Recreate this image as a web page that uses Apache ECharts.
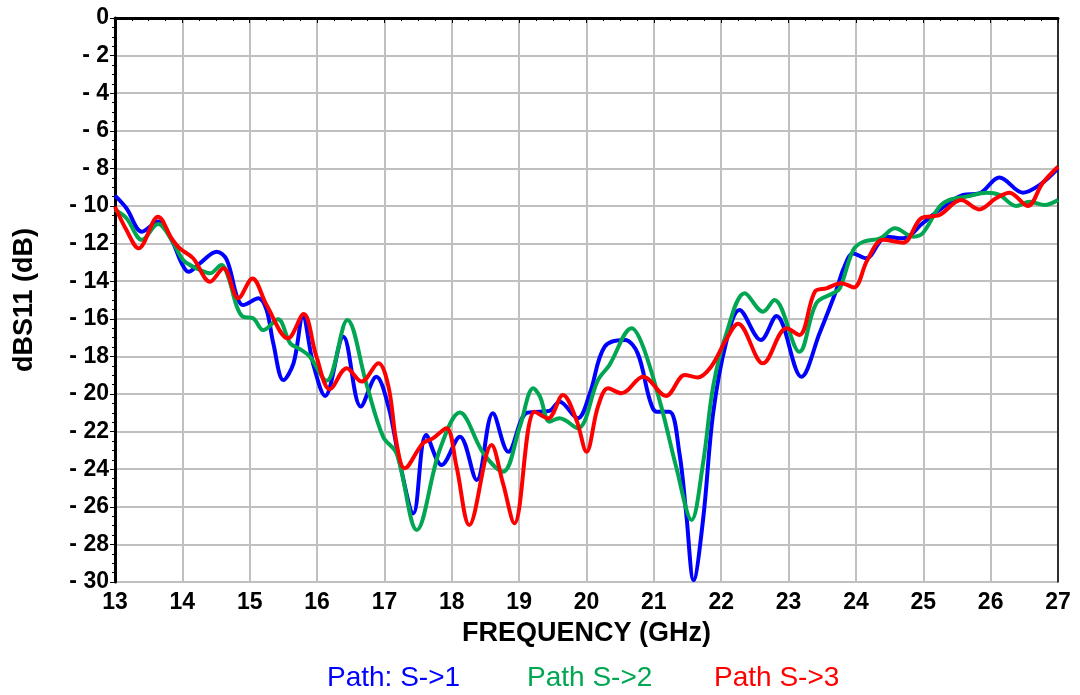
<!DOCTYPE html>
<html><head><meta charset="utf-8">
<script src="https://cdn.jsdelivr.net/npm/echarts@6/dist/echarts.min.js"></script>
<style>html,body{margin:0;padding:0;background:#fff}#c{width:1080px;height:695px}</style>
</head><body><div id="c"></div>
<script>
const seriesNames = ['Path: S->1', 'Path S->2', 'Path S->3'];
const xTicks = [13,14,15,16,17,18,19,20,21,22,23,24,25,26,27];
const yTicks = [0,-2,-4,-6,-8,-10,-12,-14,-16,-18,-20,-22,-24,-26,-28,-30];

const freq1 = [13.00,13.17,13.40,13.64,13.84,13.99,14.09,14.26,14.51,14.66,14.81,14.90,15.13,15.25,15.35,15.50,15.65,15.79,15.94,16.12,16.39,16.65,16.88,17.06,17.23,17.43,17.62,17.85,18.12,18.37,18.61,18.84,19.11,19.31,19.45,19.60,19.87,20.05,20.27,20.57,20.76,20.94,21.04,21.23,21.38,21.48,21.59,21.73,21.88,22.07,22.27,22.59,22.82,23.19,23.46,23.71,23.82,23.96,24.15,24.45,24.70,24.99,25.24,25.59,25.83,26.13,26.48,26.73,27.00];
const db1 = [-9.45,-10.12,-11.37,-10.83,-11.8,-13.05,-13.5,-13.05,-12.43,-12.87,-14.82,-15.27,-14.91,-15.53,-17.3,-19.26,-18.37,-15.89,-18.37,-20.1,-16.95,-20.67,-19.08,-20.67,-23.69,-26.35,-22.18,-23.78,-22.27,-24.57,-21.03,-23.07,-21.0,-20.94,-20.9,-20.41,-21.29,-19.96,-17.48,-17.13,-17.84,-20.32,-20.94,-20.94,-23.16,-26.35,-29.9,-26.7,-21.03,-17.3,-15.53,-17.13,-15.85,-19.08,-16.77,-14.47,-13.3,-12.52,-12.78,-11.63,-11.72,-10.92,-10.21,-9.41,-9.33,-8.48,-9.29,-8.88,-8.0];

const freq2 = [13.00,13.17,13.40,13.64,13.84,14.01,14.16,14.26,14.41,14.58,14.68,14.81,14.90,15.05,15.20,15.42,15.60,15.74,15.89,16.14,16.45,16.73,16.98,17.18,17.48,17.82,18.12,18.47,18.76,19.01,19.21,19.31,19.45,19.60,19.87,20.17,20.34,20.67,20.84,21.11,21.33,21.56,21.73,21.88,22.07,22.35,22.62,22.79,23.16,23.41,23.66,23.76,23.96,24.11,24.36,24.58,24.85,24.99,25.24,25.39,25.64,25.94,26.13,26.38,26.58,26.80,27.00];
const db2 = [-10.2,-10.65,-11.8,-10.96,-11.8,-12.87,-13.23,-13.4,-13.58,-13.14,-13.76,-15.36,-15.89,-15.97,-16.6,-16.03,-17.3,-17.6,-18.0,-19.3,-16.06,-19.43,-22.27,-23.16,-27.23,-22.98,-20.99,-23.16,-24.13,-21.74,-19.7,-20.14,-21.47,-21.29,-21.82,-19.26,-18.46,-16.5,-17.48,-20.67,-23.86,-26.7,-23.69,-19.61,-16.86,-14.64,-15.62,-15.0,-17.75,-15.18,-14.64,-14.38,-12.34,-11.9,-11.72,-11.19,-11.63,-11.45,-10.04,-9.68,-9.5,-9.29,-9.41,-10.0,-9.77,-9.95,-9.68];

const freq3 = [13.00,13.17,13.35,13.64,13.84,13.96,14.16,14.41,14.61,14.83,15.04,15.25,15.57,15.80,15.99,16.19,16.44,16.66,16.91,17.06,17.18,17.30,17.57,17.72,17.92,18.07,18.26,18.59,18.76,18.93,19.23,19.43,19.65,19.85,20.00,20.17,20.32,20.52,20.84,21.18,21.46,21.65,21.85,22.07,22.25,22.62,22.97,23.16,23.39,23.56,23.78,23.97,24.17,24.40,24.70,24.97,25.24,25.56,25.83,26.08,26.28,26.55,26.77,27.00];
const db3 = [-10.04,-11.28,-12.25,-10.57,-11.72,-12.25,-12.78,-14.03,-13.31,-14.91,-13.85,-15.27,-17.04,-15.75,-18.0,-19.75,-18.63,-19.34,-18.37,-19.61,-22.62,-23.95,-22.62,-22.36,-21.82,-23.86,-26.97,-22.71,-24.75,-26.88,-20.94,-21.3,-20.05,-21.38,-23.07,-20.67,-19.7,-19.96,-19.08,-20.1,-18.99,-19.12,-18.55,-17.13,-16.26,-18.37,-16.5,-16.86,-14.56,-14.38,-14.11,-14.33,-12.87,-11.8,-11.95,-10.65,-10.48,-9.68,-10.18,-9.59,-9.29,-10.0,-8.79,-7.91];

const colors = ['#0000ff', '#00a651', '#ff0000'];
const legendLeft = [322, 522, 709];
const pairs = (xs, ys) => xs.map((x, i) => [x, ys[i]]);

const chart = echarts.init(document.getElementById('c'));
const font = '"Liberation Sans", Arial, sans-serif';
chart.setOption({
  animation: false,
  grid: { left: 115, right: 22, top: 18, bottom: 113 },
  xAxis: {
    type: 'value', min: xTicks[0], max: xTicks[xTicks.length - 1], interval: 1,
    name: 'FREQUENCY (GHz)', nameLocation: 'middle', nameGap: 38,
    nameTextStyle: { fontFamily: font, fontWeight: 'bold', fontSize: 27, color: '#000' },
    axisLine: { lineStyle: { color: '#000', width: 3 } },
    axisTick: { lineStyle: { color: '#000', width: 1 }, length: 5 },
    minorTick: { show: true, splitNumber: 4, length: 3, lineStyle: { color: '#000' } },
    axisLabel: { fontFamily: font, fontWeight: 'bold', fontSize: 23, color: '#000', margin: 9 },
    splitLine: { show: true, lineStyle: { color: '#c0c0c0', width: 2 } }
  },
  yAxis: [{
    type: 'value', min: yTicks[yTicks.length - 1], max: yTicks[0], interval: 2,
    name: 'dBS11 (dB)', nameLocation: 'middle', nameGap: 77,
    nameTextStyle: { fontFamily: font, fontWeight: 'bold', fontSize: 27, color: '#000' },
    axisLine: { lineStyle: { color: '#000', width: 3 } },
    axisTick: { lineStyle: { color: '#000', width: 1 }, length: 5 },
    minorTick: { show: true, splitNumber: 4, length: 3, lineStyle: { color: '#000' } },
    axisLabel: { fontFamily: font, fontWeight: 'bold', fontSize: 23, color: '#000', margin: 6,
      formatter: v => v === 0 ? '0' : '- ' + Math.abs(v) },
    splitLine: { show: true, lineStyle: { color: '#c0c0c0', width: 2 } }
  }, {
    type: 'value', min: yTicks[yTicks.length - 1], max: yTicks[0], interval: 2, position: 'right',
    axisLine: { show: true, lineStyle: { color: '#000', width: 1.5 } },
    axisTick: { show: false }, axisLabel: { show: false }, splitLine: { show: false }
  }],
  legend: seriesNames.map((n, i) => ({
    left: legendLeft[i], top: 664, icon: 'none', itemWidth: 0, itemHeight: 0, padding: 0,
    textStyle: { fontFamily: font, fontSize: 28, color: colors[i], padding: 0 },
    data: [{ name: n }]
  })),
  series: [
    { name: seriesNames[0], type: 'line', data: pairs(freq1, db1) },
    { name: seriesNames[1], type: 'line', data: pairs(freq2, db2) },
    { name: seriesNames[2], type: 'line', data: pairs(freq3, db3) }
  ].map((s, i) => Object.assign(s, {
    smooth: 0.35, symbol: 'none', color: colors[i],
    lineStyle: { color: colors[i], width: 4 }
  }))
});
</script></body></html>
